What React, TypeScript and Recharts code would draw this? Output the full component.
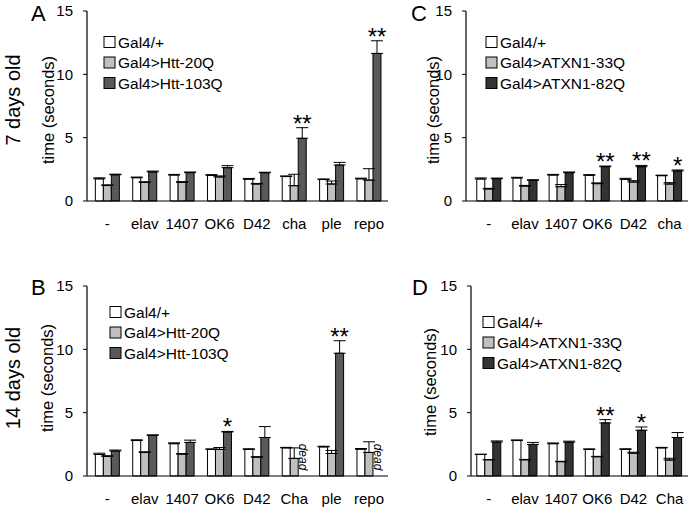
import { Bar, BarChart, ErrorBar, LabelList, XAxis, YAxis } from 'recharts'

const FONT = '"Liberation Sans", Arial, sans-serif'

// panel A: 7 days old, Htt
const catsA = ['-', 'elav', '1407', 'OK6', 'D42', 'cha', 'ple', 'repo']
const whiteA = [1.75, 1.84, 2.05, 2.03, 1.72, 1.93, 1.7, 1.75]
const whiteErrA = [0.08, 0.05, 0.05, 0.05, 0.06, 0.05, 0.04, 0.05]
const grayA = [1.22, 1.47, 1.47, 1.9, 1.34, 1.21, 1.34, 1.65]
const grayErrA = [0.06, 0.05, 0.06, 0.08, 0.05, 0.9, 0.24, 0.9]
const darkA = [2.07, 2.3, 2.24, 2.63, 2.23, 4.95, 2.84, 11.65]
const darkErrA = [0.05, 0.06, 0.05, 0.16, 0.04, 0.84, 0.21, 1.0]
const starsA = ['', '', '', '', '', '**', '', '**']

// panel B: 14 days old, Htt
const catsB = ['-', 'elav', '1407', 'OK6', 'D42', 'Cha', 'ple', 'repo']
const whiteB = [1.7, 2.8, 2.55, 2.1, 2.1, 2.22, 2.3, 2.12]
const whiteErrB = [0.1, 0.06, 0.07, 0.04, 0.05, 0.04, 0.05, 0.05]
const grayB = [1.55, 1.86, 1.73, 2.1, 1.49, 1.39, 1.78, 1.86]
const grayErrB = [0.05, 0.05, 0.04, 0.15, 0.03, 0.83, 0.24, 0.84]
const darkB = [1.97, 3.2, 2.65, 3.48, 3.04, null, 9.69, null]
const darkErrB = [0.08, 0.05, 0.18, 0.04, 0.86, 0, 0.99, 0]
const starsB = ['', '', '', '*', '', '', '**', '']
const deadB = [false, false, false, false, false, true, false, true]

// panel C: 7 days old, ATXN1
const catsC = ['-', 'elav', '1407', 'OK6', 'D42', 'cha']
const whiteC = [1.74, 1.82, 2.05, 2.03, 1.71, 2.0]
const whiteErrC = [0.08, 0.05, 0.05, 0.05, 0.08, 0.04]
const grayC = [0.95, 1.18, 1.13, 1.37, 1.5, 1.34]
const grayErrC = [0.05, 0.05, 0.17, 0.06, 0.1, 0.11]
const darkC = [1.76, 1.63, 2.24, 2.71, 2.71, 2.37]
const darkErrC = [0.05, 0.05, 0.05, 0.05, 0.1, 0.08]
const starsC = ['', '', '', '**', '**', '*']

// panel D: 14 days old, ATXN1
const catsD = ['-', 'elav', '1407', 'OK6', 'D42', 'Cha']
const whiteD = [1.7, 2.8, 2.55, 2.1, 2.1, 2.22]
const whiteErrD = [0.02, 0.05, 0.06, 0.04, 0.05, 0.04]
const grayD = [1.28, 1.28, 1.13, 1.52, 1.8, 1.26]
const grayErrD = [0.02, 0.03, 0.03, 0.03, 0.08, 0.14]
const darkD = [2.68, 2.49, 2.67, 4.19, 3.61, 3.04]
const darkErrD = [0.09, 0.16, 0.08, 0.26, 0.26, 0.39]
const starsD = ['', '', '', '**', '*', '']

const legendHtt = ['Gal4/+', 'Gal4>Htt-20Q', 'Gal4>Htt-103Q']
const legendAtx = ['Gal4/+', 'Gal4>ATXN1-33Q', 'Gal4>ATXN1-82Q']
const yTicks = [0, 5, 10, 15]

const buildRows = (cats, w, we, g, ge, d, de, stars, dead?) =>
  cats.map((name, i) => ({
    name,
    w: w[i],
    wErr: [0, we[i]],
    g: g[i],
    gErr: [0, ge[i]],
    d: d[i],
    dErr: d[i] == null ? undefined : [0, de[i]],
    dErrVal: de[i],
    star: stars[i],
    dead: dead ? dead[i] : false,
  }))

// stars sit just above the error bar of the dark bar
const StarLabel = (props: any) => {
  const vb = props.viewBox ?? props
  const { x, y, width, height } = vb
  const row = props.value
  if (!row || !row.star || row.d == null || !height) return null
  const pxPerUnit = height / row.d
  const top = y - row.dErrVal * pxPerUnit
  return (
    <text x={x + width / 2} y={top + 4} textAnchor="middle" fontSize={24} fontFamily={FONT} fill="#000">
      {row.star}
    </text>
  )
}

// gray bar is the middle of each group: category name and "dead" hang off it
const GrayLabels = (props: any) => {
  const vb = props.viewBox ?? props
  const { x, y, width, height } = vb
  const row = props.value
  if (!row) return null
  const base = y + height
  const cx = x + width * 1.5 + 1
  const cy = base - 19
  return (
    <g>
      <text x={x + width / 2} y={base + 28} textAnchor="middle" fontSize={15} fontFamily={FONT} fill="#000">
        {row.name}
      </text>
      {row.dead && (
        <text
          x={cx}
          y={cy}
          transform={`rotate(90, ${cx}, ${cy})`}
          textAnchor="middle"
          dominantBaseline="central"
          fontSize={12}
          fontStyle="italic"
          fontFamily={FONT}
          fill="#000"
        >
          dead
        </text>
      )}
    </g>
  )
}

function Panel({ rows, left, top, width, marginLeft, padLeft, dark, gap }: any) {
  return (
    <div style={{ position: 'absolute', left, top }}>
      <BarChart
        width={width}
        height={236}
        data={rows}
        margin={{ top: 11, right: 4, bottom: 5, left: marginLeft }}
        barGap={0}
        barCategoryGap={gap}
      >
        <XAxis
          dataKey="name"
          tickLine={false}
          axisLine={{ stroke: '#000', strokeWidth: 1.2 }}
          tick={false}
          interval={0}
          padding={{ left: padLeft, right: 0 }}
        />
        <YAxis
          width={40}
          domain={[0, 15]}
          ticks={yTicks}
          tickSize={4}
          tickMargin={10}
          axisLine={{ stroke: '#000', strokeWidth: 1.2 }}
          tickLine={{ stroke: '#000' }}
          tick={{ fill: '#000', fontSize: 15, fontFamily: FONT }}
        />
        <Bar dataKey="w" fill="#ffffff" stroke="#000" strokeWidth={1} isAnimationActive={false}>
          <ErrorBar dataKey="wErr" width={6} stroke="#000" strokeWidth={1} />
        </Bar>
        <Bar dataKey="g" fill="#c0c0c0" stroke="#000" strokeWidth={1} isAnimationActive={false}>
          <ErrorBar dataKey="gErr" width={6} stroke="#000" strokeWidth={1} />
          <LabelList dataKey={(row: any) => row} content={GrayLabels} />
        </Bar>
        <Bar dataKey="d" fill={dark} stroke="#000" strokeWidth={1} isAnimationActive={false}>
          <ErrorBar dataKey="dErr" width={6} stroke="#000" strokeWidth={1} />
          <LabelList dataKey={(row: any) => row} content={StarLabel} />
        </Bar>
      </BarChart>
    </div>
  )
}

function Legend({ x, y, labels, dark }: any) {
  const fills = ['#ffffff', '#c0c0c0', dark]
  return (
    <g>
      {labels.map((t: string, i: number) => (
        <g key={t}>
          <rect x={x} y={y + i * 20.5 - 5.5} width={11} height={11} fill={fills[i]} stroke="#000" strokeWidth={1} />
          <text x={x + 14} y={y + i * 20.5 + 5.5} fontSize={15.5} fontFamily={FONT} fill="#000">
            {t}
          </text>
        </g>
      ))}
    </g>
  )
}

export default function App() {
  const rowsA = buildRows(catsA, whiteA, whiteErrA, grayA, grayErrA, darkA, darkErrA, starsA)
  const rowsB = buildRows(catsB, whiteB, whiteErrB, grayB, grayErrB, darkB, darkErrB, starsB, deadB)
  const rowsC = buildRows(catsC, whiteC, whiteErrC, grayC, grayErrC, darkC, darkErrC, starsC)
  const rowsD = buildRows(catsD, whiteD, whiteErrD, grayD, grayErrD, darkD, darkErrD, starsD)
  const htt = '#595959'
  const atx = '#333333'

  return (
    <div style={{ position: 'absolute', left: 0, top: 0, width: 692, height: 511, background: '#fff' }}>
      <svg width={692} height={511} style={{ position: 'absolute', left: 0, top: 0 }}>
        <g fontFamily={FONT} fill="#000">
          <text x={31} y={21} fontSize={22}>A</text>
          <text x={411} y={21} fontSize={22}>C</text>
          <text x={31} y={295} fontSize={22}>B</text>
          <text x={412} y={295} fontSize={22}>D</text>
          <text x={20} y={100} fontSize={20} textAnchor="middle" transform="rotate(-90, 20, 100)">7 days old</text>
          <text x={20} y={378} fontSize={20} textAnchor="middle" transform="rotate(-90, 20, 378)">14 days old</text>
          <text x={54} y={110} fontSize={16.5} textAnchor="middle" transform="rotate(-90, 54, 110)">time (seconds)</text>
          <text x={439} y={110} fontSize={16.5} textAnchor="middle" transform="rotate(-90, 439, 110)">time (seconds)</text>
          <text x={53} y={378} fontSize={16.5} textAnchor="middle" transform="rotate(-90, 53, 378)">time (seconds)</text>
          <text x={436} y={382} fontSize={16.5} textAnchor="middle" transform="rotate(-90, 436, 382)">time (seconds)</text>
        </g>
        <Legend x={104} y={42} labels={legendHtt} dark={htt} />
        <Legend x={486} y={42} labels={legendAtx} dark={atx} />
        <Legend x={110} y={312} labels={legendHtt} dark={htt} />
        <Legend x={483} y={322} labels={legendAtx} dark={atx} />
      </svg>
      <Panel rows={rowsA} left={0} top={0} width={392} marginLeft={47} padLeft={2} dark={htt} gap="17%" />
      <Panel rows={rowsC} left={346} top={0} width={346} marginLeft={80} padLeft={5} dark={atx} gap="16%" />
      <Panel rows={rowsB} left={0} top={275} width={392} marginLeft={47} padLeft={2} dark={htt} gap="17%" />
      <Panel rows={rowsD} left={346} top={275} width={346} marginLeft={85} padLeft={0} dark={atx} gap="16%" />
    </div>
  )
}
